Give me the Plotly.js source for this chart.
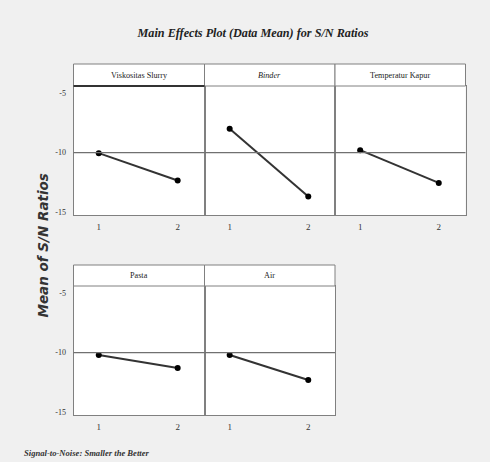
<!DOCTYPE html>
<html><head><meta charset="utf-8">
<script src="https://cdn.plot.ly/plotly-3.0.1.min.js"></script>
<style>html,body{margin:0;padding:0;background:#f0f0f0}#chart{width:490px;height:462px}</style>
</head><body><div id="chart"></div>
<script>
// ---- data ----
const factors = ['Viskositas Slurry', 'Binder', 'Temperatur Kapur', 'Pasta', 'Air'];
const levels = [1, 2];
const viskositas = [-10.05, -12.35];
const binder = [-8.0, -13.7];
const temperatur = [-9.8, -12.55];
const pasta = [-10.2, -11.3];
const air = [-10.2, -12.3];
const yTickVals = [-5, -10, -15];
const yTickText = ['-5', '-10', '-15'];
const xTickText = ['1', '2'];
const refLine = -10;

const series = [viskositas, binder, temperatur, pasta, air];

// ---- layout geometry (pixels -> paper) ----
const W = 490, H = 462;
const colX = [[73.5, 204.5], [204.5, 335], [335, 465.5]];
const rows = [{plot: [86, 215], head: [64, 86]}, {plot: [286, 415], head: [265, 286]}];
const px = v => v / W, py = v => 1 - v / H;

const traces = [];
const layout = {
  width: W, height: H,
  margin: {l: 0, r: 0, t: 0, b: 0},
  paper_bgcolor: '#f0f0f0',
  plot_bgcolor: '#ffffff',
  showlegend: false,
  title: {
    text: 'Main Effects Plot (Data Mean) for S/N Ratios',
    x: px(253), y: py(33), xanchor: 'center', yanchor: 'middle',
    font: {family: 'Liberation Serif', size: 12.2, color: '#222', weight: 'bold', style: 'italic'}
  },
  shapes: [],
  annotations: []
};

factors.forEach((f, i) => {
  const r = i < 3 ? 0 : 1;
  const c = i < 3 ? i : i - 3;
  const n = i + 1;
  const xa = 'xaxis' + (n === 1 ? '' : n), ya = 'yaxis' + (n === 1 ? '' : n);
  const xr = 'x' + (n === 1 ? '' : n), yr = 'y' + (n === 1 ? '' : n);
  traces.push({
    x: levels, y: series[i], xaxis: xr, yaxis: yr,
    type: 'scatter', mode: 'lines+markers',
    line: {color: '#333333', width: 2},
    marker: {color: '#000000', size: 6},
    hoverinfo: 'skip'
  });
  layout[xa] = {
    domain: [px(colX[c][0]), px(colX[c][1])],
    anchor: yr, range: [0.68, 2.34],
    tickvals: levels, ticktext: xTickText,
    showgrid: false, zeroline: false,
    showline: true, mirror: true, linecolor: '#808080', linewidth: 1,
    ticks: '', ticklen: 0, ticklabelstandoff: 3,
    tickfont: {family: 'Liberation Serif', size: 9, color: '#333'}
  };
  layout[ya] = {
    domain: [py(rows[r].plot[1]), py(rows[r].plot[0])],
    anchor: xr, range: [-15.25, -4.4],
    tickvals: yTickVals, ticktext: yTickText,
    showticklabels: c === 0,
    showgrid: false, zeroline: false,
    showline: true, mirror: true, linecolor: '#808080', linewidth: 1,
    ticks: '', ticklen: 0, ticklabelstandoff: 5,
    tickfont: {family: 'Liberation Serif', size: 8, color: '#333'}
  };
  // reference line
  layout.shapes.push({
    type: 'line', xref: xr + ' domain', yref: yr,
    x0: 0, x1: 1, y0: refLine, y1: refLine,
    line: {color: '#707070', width: 1.2}
  });
  // header box
  layout.shapes.push({
    type: 'rect', xref: 'paper', yref: 'paper',
    x0: px(colX[c][0]), x1: px(colX[c][1]),
    y0: py(rows[r].head[1]), y1: py(rows[r].head[0]),
    fillcolor: '#ffffff', line: {color: '#808080', width: 1}
  });
  layout.annotations.push({
    xref: 'paper', yref: 'paper',
    x: (px(colX[c][0]) + px(colX[c][1])) / 2,
    y: py((rows[r].head[0] + rows[r].head[1]) / 2),
    xanchor: 'center', yanchor: 'middle', showarrow: false,
    text: f === 'Binder' ? '<i>' + f + '</i>' : f,
    font: {family: 'Liberation Serif', size: 8.2, color: '#222'}
  });
});

// darker bottom edge of first header
layout.shapes.push({
  type: 'line', xref: 'paper', yref: 'paper',
  x0: px(colX[0][0]), x1: px(colX[0][1]), y0: py(86), y1: py(86),
  line: {color: '#333333', width: 2}
});

// y-axis title
layout.annotations.push({
  xref: 'paper', yref: 'paper', x: px(42.5), y: py(246),
  xanchor: 'center', yanchor: 'middle', showarrow: false, textangle: -90,
  text: '<b><i>Mean of S/N Ratios</i></b>',
  font: {family: 'DejaVu Sans', size: 13.5, color: '#333'}
});
// footnote
layout.annotations.push({
  xref: 'paper', yref: 'paper', x: px(22), y: py(453),
  xanchor: 'left', yanchor: 'middle', showarrow: false,
  text: '<b><i>Signal-to-Noise: Smaller the Better</i></b>',
  font: {family: 'Liberation Serif', size: 8.6, color: '#333'}
});

Plotly.newPlot('chart', traces, layout, {displayModeBar: false, staticPlot: true});
</script>
</body></html>
